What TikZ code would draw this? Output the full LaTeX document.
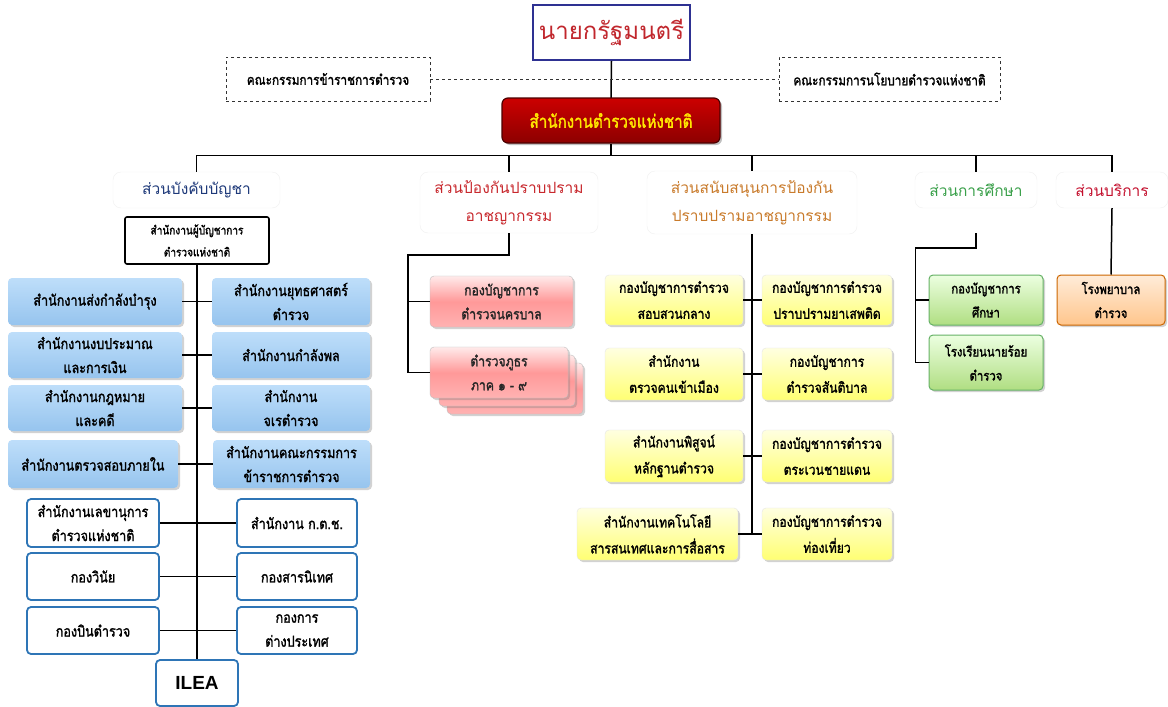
\documentclass[tikz,border=0pt]{standalone}
\usepackage{fontspec}
\usetikzlibrary{shadows,calc}
\newfontfamily\thr[Script=Thai]{Loma}
\newfontfamily\thc[Script=Thai,FakeStretch=0.84,FakeBold=1.6]{Loma}
\newfontfamily\lsans{Liberation Sans}
\definecolor{navy}{HTML}{2E3192}
\definecolor{titlered}{HTML}{C1272D}
\definecolor{hblue}{HTML}{1F3A7A}
\definecolor{hred}{HTML}{C8282D}
\definecolor{horange}{HTML}{C97B2C}
\definecolor{hgreen}{HTML}{3AA04A}
\definecolor{hred2}{HTML}{C4102E}
\definecolor{bblue}{HTML}{2E75B6}
\definecolor{gyel}{HTML}{FFE600}
\newcommand\bx[7]{\node[#2, minimum width={(#5-#3)*1pt}, minimum height={(#6-#4)*1pt}] (#1) at ({(#3+#5)/2},{(#4+#6)/2}) {#7};}
\tikzset{
  base/.style={inner sep=0pt, align=center},
  conn/.style={draw=black, line width=1.5pt},
  pmbox/.style={base, draw=navy, line width=1.6pt, fill=white, text=titlered, font=\thr\fontsize{24}{28}\selectfont},
  dbox/.style={base, draw=black!80, dashed, line width=0.9pt, fill=white, font=\thc\fontsize{14}{20}\selectfont},
  npabox/.style={base, draw=black!70!red, line width=1.2pt, rounded corners=6pt, top color=red!80!black, bottom color=red!55!black, text=gyel, drop shadow={shadow xshift=2pt, shadow yshift=-2pt, opacity=.5}, font=\thc\fontsize{18}{20}\selectfont},
  hbox/.style={base, draw=black!6, rounded corners=8pt, fill=white, font=\thr\fontsize{15.5}{28}\selectfont},
  cmdbox/.style={base, draw=black, line width=1.6pt, rounded corners=2pt, fill=white, font=\thc\fontsize{12}{22}\selectfont},
  bluebox/.style={base, rounded corners=4pt, top color={rgb,255:red,190;green,222;blue,250}, bottom color={rgb,255:red,150;green,196;blue,238}, drop shadow={shadow xshift=2pt, shadow yshift=-2pt, opacity=.35}, font=\thc\fontsize{15}{24}\selectfont},
  wbox/.style={base, draw=bblue, line width=1.8pt, rounded corners=4pt, fill=white, font=\thc\fontsize{15}{24}\selectfont},
  pinkbox/.style={base, draw=black!25, rounded corners=4pt, top color=red!8, bottom color=red!30, middle color=red!40, drop shadow={shadow xshift=2pt, shadow yshift=-2pt, opacity=.35}, text=black!85, font=\thc\fontsize{14.5}{24}\selectfont},
  yelbox/.style={base, draw=black!10, rounded corners=4pt, top color=yellow!12, bottom color=yellow!55, drop shadow={shadow xshift=2pt, shadow yshift=-2pt, opacity=.35}, font=\thc\fontsize{14.5}{26}\selectfont},
  grnbox/.style={base, draw=green!50!black!60, line width=1pt, rounded corners=4pt, top color=green!50!lime!12, bottom color={rgb,255:red,176;green,222;blue,130}, drop shadow={shadow xshift=2pt, shadow yshift=-2pt, opacity=.35}, font=\thc\fontsize{13.5}{24}\selectfont},
  orgbox/.style={base, draw=orange!80!black, line width=1pt, rounded corners=4pt, top color=orange!15, bottom color=orange!45, drop shadow={shadow xshift=2pt, shadow yshift=-2pt, opacity=.35}, font=\thc\fontsize{13.5}{24}\selectfont},
}
\begin{document}
\begin{tikzpicture}[x=1pt,y=-1pt]
\path[use as bounding box, fill=white] (0,0) rectangle (1168,707);

% top
\bx{pm}{pmbox}{533}{5}{690}{60}{นายกรัฐมนตรี}
\bx{kc1}{dbox}{226}{57}{430}{101}{คณะกรรมการข้าราชการตำรวจ}
\bx{kc2}{dbox}{779}{57}{1000}{101}{คณะกรรมการนโยบายตำรวจแห่งชาติ}
\draw[conn] (pm.south) -- (611,98) coordinate (npatop);
\draw[dashed, line width=0.9pt, black!80] (kc1.east) -- (kc2.west);
\bx{npa}{npabox}{502}{98}{720}{143}{สำนักงานตำรวจแห่งชาติ}

% headers
\bx{h1}{hbox,text=hblue}{113}{172}{280}{208}{ส่วนบังคับบัญชา}
\bx{h2}{hbox,text=hred}{420}{172}{598}{233}{ส่วนป้องกันปราบปราม\\อาชญากรรม}
\bx{h3}{hbox,text=horange}{647}{171}{857}{234}{ส่วนสนับสนุนการป้องกัน\\ปราบปรามอาชญากรรม}
\bx{h4}{hbox,text=hgreen}{915}{172}{1037}{208}{ส่วนการศึกษา}
\bx{h5}{hbox,text=hred2}{1056}{172}{1168}{208}{ส่วนบริการ}

\draw[conn] (npa.south) -- ++(0,12) coordinate (bus);
\draw[conn] (h1.north) -- (h1.north |- bus) -- (h5.north |- bus) -- (h5.north);
\draw[conn] (h2.north) -- (h2.north |- bus);
\draw[conn] (h3.north) -- (h3.north |- bus);
\draw[conn] (h4.north) -- (h4.north |- bus);

% left column
\bx{cmd}{cmdbox}{125}{217}{269}{264}{สำนักงานผู้บัญชาการ\\ตำรวจแห่งชาติ}
\bx{b1l}{bluebox}{8}{278}{182}{325}{สำนักงานส่งกำลังบำรุง}
\bx{b1r}{bluebox}{212}{278}{370}{325}{สำนักงานยุทธศาสตร์\\ตำรวจ}
\bx{b2l}{bluebox}{8}{332}{182}{378}{สำนักงานงบประมาณ\\และการเงิน}
\bx{b2r}{bluebox}{212}{332}{370}{378}{สำนักงานกำลังพล}
\bx{b3l}{bluebox}{8}{385}{182}{431}{สำนักงานกฎหมาย\\และคดี}
\bx{b3r}{bluebox}{212}{385}{370}{431}{สำนักงาน\\จเรตำรวจ}
\bx{b4l}{bluebox}{8}{440}{178}{488}{สำนักงานตรวจสอบภายใน}
\bx{b4r}{bluebox}{213}{440}{370}{488}{สำนักงานคณะกรรมการ\\ข้าราชการตำรวจ}
\bx{w5l}{wbox}{27}{499}{159}{547}{สำนักงานเลขานุการ\\ตำรวจแห่งชาติ}
\bx{w5r}{wbox}{237}{499}{357}{547}{สำนักงาน ก.ต.ช.}
\bx{w6l}{wbox}{27}{553}{159}{600}{กองวินัย}
\bx{w6r}{wbox}{237}{553}{357}{600}{กองสารนิเทศ}
\bx{w7l}{wbox}{27}{607}{159}{654}{กองบินตำรวจ}
\bx{w7r}{wbox}{237}{607}{357}{654}{กองการ\\ต่างประเทศ}
\bx{ilea}{wbox,font=\lsans\bfseries\fontsize{19}{22}\selectfont}{156}{660}{238}{706}{ILEA}

\draw[conn] (cmd.south) -- (ilea.north);
\foreach \r in {b1,b2,b3,b4,w5,w6,w7}{\draw[conn] (\r l.east) -- (\r r.west);}

% prevention
\bx{p1}{pinkbox}{430}{276}{573}{327}{กองบัญชาการ\\ตำรวจนครบาล}
\bx{p2c}{pinkbox}{447}{363}{583}{414}{}
\bx{p2b}{pinkbox}{439}{355}{575}{406}{}
\bx{p2}{pinkbox}{430}{347}{568}{398}{ตำรวจภูธร\\ภาค ๑ - ๙}
\draw[conn] (h2.south) -- ++(0,22) -| ([xshift=-22pt]p2.west) -- (p2.west);
\draw[conn] (p1.west) -- ++(-22,0);

% support
\bx{y1l}{yelbox}{605}{275}{743}{325}{กองบัญชาการตำรวจ\\สอบสวนกลาง}
\bx{y1r}{yelbox}{762}{275}{892}{325}{กองบัญชาการตำรวจ\\ปราบปรามยาเสพติด}
\bx{y2l}{yelbox}{605}{348}{743}{400}{สำนักงาน\\ตรวจคนเข้าเมือง}
\bx{y2r}{yelbox}{762}{348}{892}{400}{กองบัญชาการ\\ตำรวจสันติบาล}
\bx{y3l}{yelbox}{605}{430}{743}{482}{สำนักงานพิสูจน์\\หลักฐานตำรวจ}
\bx{y3r}{yelbox}{762}{430}{892}{482}{กองบัญชาการตำรวจ\\ตระเวนชายแดน}
\bx{y4l}{yelbox}{577}{508}{738}{560}{สำนักงานเทคโนโลยี\\สารสนเทศและการสื่อสาร}
\bx{y4r}{yelbox}{762}{508}{892}{560}{กองบัญชาการตำรวจ\\ท่องเที่ยว}
\draw[conn] (h3.south) -- (h3.south |- y4l.east);
\foreach \r in {y1,y2,y3,y4}{\draw[conn] (\r l.east) -- (\r r.west);}

% education
\bx{g1}{grnbox}{929}{275}{1043}{325}{กองบัญชาการ\\ศึกษา}
\bx{g2}{grnbox}{929}{335}{1043}{390}{โรงเรียนนายร้อย\\ตำรวจ}
\draw[conn] ([yshift=-25pt]h4.south) -- ++(0,15) -| ([xshift=-13pt]g2.west) -- (g2.west);
\draw[conn] (g1.west) -- ++(-13,0);

% service
\bx{o1}{orgbox}{1057}{275}{1165}{325}{โรงพยาบาล\\ตำรวจ}
\draw[conn] (h5.south) -- (o1.north);
\end{tikzpicture}
\end{document}
